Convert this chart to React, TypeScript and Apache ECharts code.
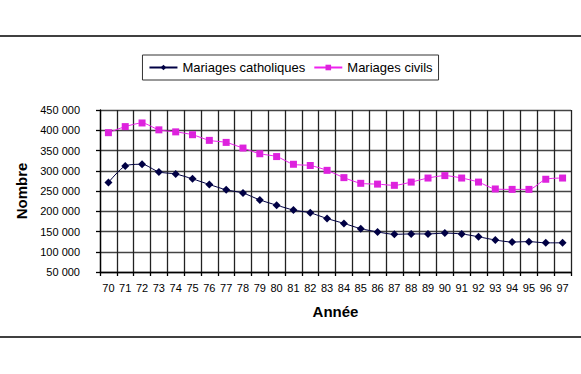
import React, { useEffect, useRef } from "react";
import * as echarts from "echarts";

const years = ["70","71","72","73","74","75","76","77","78","79","80","81","82","83","84","85","86","87","88","89","90","91","92","93","94","95","96","97"];
const catholiques = [271000,312000,316000,297000,292000,280000,266000,253000,245000,228000,215000,203000,196000,182000,170000,157000,149000,143000,144000,144000,146000,144000,137000,129000,124000,125000,122000,122000];
const civils = [394000,409000,418000,401000,396000,389000,375000,370000,356000,342000,335000,316000,313000,301000,283000,269000,267000,264000,272000,282000,288000,282000,272000,255000,254000,254000,279000,282000];

const FONT = "'Liberation Sans', Arial, sans-serif";

export default function App() {
  const ref = useRef<HTMLDivElement>(null);
  useEffect(() => {
    document.body.style.margin = "0";
    const chart = echarts.init(ref.current!, null, { renderer: "svg" });
    chart.setOption({
      animation: false,
      backgroundColor: "#ffffff",
      textStyle: { fontFamily: FONT },
      grid: { left: 100, top: 110, right: 10, bottom: 102, containLabel: false },
      legend: {
        top: 55,
        left: "center",
        data: ["Mariages catholiques", "Mariages civils"],
        borderColor: "#333",
        borderWidth: 1,
        padding: [6, 6, 6, 6],
        itemGap: 8,
        itemWidth: 28,
        itemHeight: 7,
        textStyle: { fontFamily: FONT, fontSize: 13, color: "#000" },
      },
      xAxis: {
        type: "category",
        data: years,
        boundaryGap: true,
        name: "Année",
        nameLocation: "middle",
        nameGap: 32,
        nameTextStyle: { fontFamily: FONT, fontSize: 15, fontWeight: "bold", color: "#000" },
        axisLine: { show: true, lineStyle: { color: "#000000", width: 1.3, type: "solid" } },
        axisTick: { show: true, length: 4, lineStyle: { color: "#000000", width: 1.3 } },
        axisLabel: { interval: 0, fontSize: 11, color: "#000", margin: 10, fontFamily: FONT },
        splitLine: { show: true, interval: 0, lineStyle: { color: "#222222", width: 1.3, type: "solid" } },
      },
      yAxis: {
        type: "value",
        min: 50000,
        max: 450000,
        interval: 50000,
        name: "Nombre",
        nameLocation: "middle",
        nameGap: 70,
        nameTextStyle: { fontFamily: FONT, fontSize: 15, fontWeight: "bold", color: "#000" },
        axisLine: { show: true, lineStyle: { color: "#000000", width: 1.3, type: "solid" } },
        axisTick: { show: true, length: 4, lineStyle: { color: "#000000", width: 1.3 } },
        axisLabel: {
          fontSize: 11,
          color: "#000",
          margin: 20,
          fontFamily: FONT,
          formatter: (v: number) => String(v).replace(/\B(?=(\d{3})+(?!\d))/g, " "),
        },
        splitLine: { show: true, lineStyle: { color: "#444444", width: 1.3, type: "solid" } },
      },
      series: [
        {
          name: "Mariages catholiques",
          type: "line",
          data: catholiques,
          smooth: 0.25,
          symbol: "diamond",
          symbolSize: 8,
          lineStyle: { color: "#000044", width: 1 },
          itemStyle: { color: "#000044" },
        },
        {
          name: "Mariages civils",
          type: "line",
          data: civils,
          smooth: 0.25,
          symbol: "rect",
          symbolSize: 7,
          lineStyle: { color: "#ee22ee", width: 1 },
          itemStyle: { color: "#dd22dd" },
        },
      ],
      graphic: [
        { type: "line", shape: { x1: 0, y1: 36, x2: 581, y2: 36 }, style: { stroke: "#000", lineWidth: 1.5 } },
        { type: "line", shape: { x1: 0, y1: 337, x2: 581, y2: 337 }, style: { stroke: "#000", lineWidth: 1.5 } },
      ],
    });
    return () => chart.dispose();
  }, []);
  return <div ref={ref} style={{ width: 581, height: 374 }} />;
}
